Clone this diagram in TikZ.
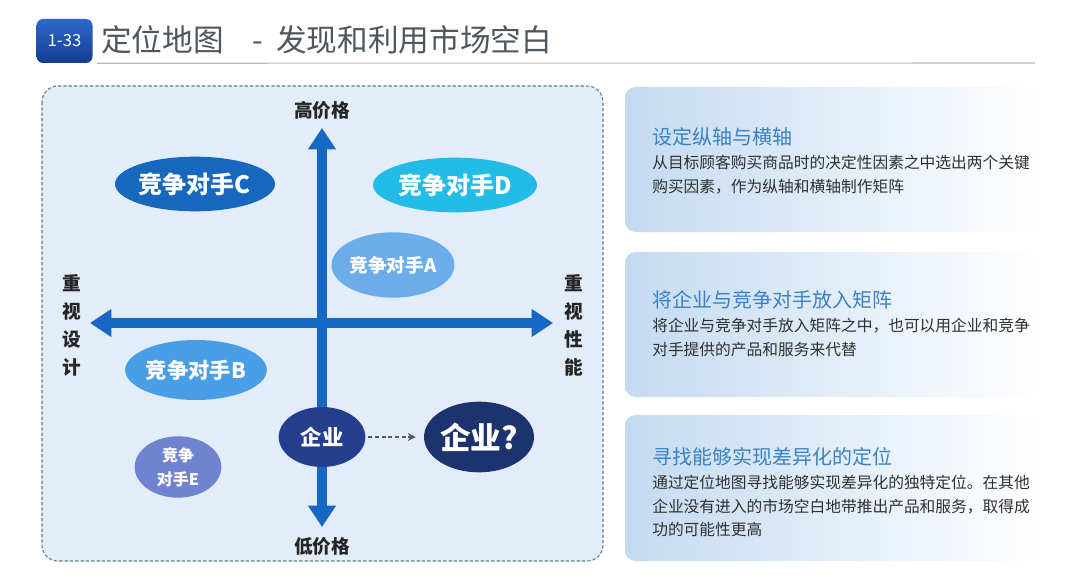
\documentclass[tikz,border=0pt]{standalone}
\usepackage{fontspec}
\setmainfont{Noto Sans CJK SC}
\usetikzlibrary{calc, arrows.meta, positioning, shapes.geometric}

\definecolor{axisblue}{HTML}{1668C4}
\definecolor{panelfill}{HTML}{E2EDF9}
\definecolor{paneledge}{HTML}{5E7F92}
\definecolor{rivalC}{HTML}{1767BF}
\definecolor{rivalD}{HTML}{23BCE6}
\definecolor{rivalA}{HTML}{6CACEB}
\definecolor{rivalB}{HTML}{4A9EE6}
\definecolor{rivalE}{HTML}{7083D0}
\definecolor{firmblue}{HTML}{253F8E}
\definecolor{goalblue}{HTML}{1D336E}
\definecolor{badgetop}{HTML}{2C68CC}
\definecolor{badgebot}{HTML}{163C92}
\definecolor{titlegray}{HTML}{4E565F}
\definecolor{cardblue}{HTML}{C4DAF1}
\definecolor{cardtitle}{HTML}{3A82C4}
\definecolor{bodygray}{HTML}{303030}

\tikzset{
  rival/.style={ellipse, inner sep=0pt, align=center, text=white},
  axis/.style={line width=7pt, axisblue, {Triangle[width=20pt,length=16pt]}-{Triangle[width=20pt,length=16pt]}},
  axislabel/.style={text=black!85, font=\bfseries\fontsize{14}{21}\selectfont, align=center, inner sep=0pt},
  card/.style={rounded corners=8pt, left color=cardblue, middle color=cardblue!22, right color=white},
  cardhead/.style={anchor=west, inner sep=0pt, text=cardtitle, font=\fontsize{15}{18}\selectfont},
  cardbody/.style={inner sep=0pt, align=left, text=bodygray, font=\fontsize{11.8}{17.5}\selectfont},
  badge/.style={rounded corners=5pt, top color=badgetop, bottom color=badgebot, text=white,
    minimum width=42pt, minimum height=33pt, inner sep=0pt, font=\fontsize{12.5}{14}\selectfont},
}

\begin{document}
\begin{tikzpicture}[x=0.75pt, y=-0.75pt]
    \fill[white] (0,0) rectangle (1080,581);
    \useasboundingbox (0,0) rectangle (1080,581);

    \node[badge] (num) at (64.5,41) {1-33};
    \node[anchor=west, inner sep=0pt, text=titlegray, font=\fontsize{23}{26}\selectfont] (head) at (101,40) {定位地图};
    \node[anchor=west, inner sep=0pt, text=titlegray, font=\fontsize{23}{26}\selectfont] (subhead) at (252,40) {-\hspace{10pt}发现和利用市场空白};
    \coordinate (ruleend) at (1035,63);
    \draw[gray!55, line width=0.8pt] ($(num.south east)+(4,0)$) -- (ruleend);

    \draw[paneledge, dash pattern=on 2.5pt off 1.5pt, line width=0.8pt, fill=panelfill, rounded corners=12pt] (42,86) rectangle (603,561);

    \coordinate (hi) at (322,128);
    \coordinate (lo) at (322,527);
    \coordinate (design) at (90,323);
    \coordinate (perf) at (553,323);
    \draw[axis] (lo) -- (hi);
    \draw[axis] (design) -- (perf);

    \node[axislabel] (hilabel) at (322,110) {高价格};
    \node[axislabel] (lolabel) at (322,546) {低价格};
    \node[axislabel] (designlabel) at (72,325) {重\\视\\设\\计};
    \node[axislabel] (perflabel) at (574,325) {重\\视\\性\\能};

    \node[rival, fill=rivalC, minimum width=120pt, minimum height=41pt, font=\bfseries\fontsize{18}{20}\selectfont] (rivc) at (195,184) {竞争对手C};
    \node[rival, fill=rivalD, minimum width=123pt, minimum height=41pt, font=\bfseries\fontsize{18}{20}\selectfont] (rivd) at (455,185) {竞争对手D};
    \node[rival, fill=rivalA, minimum width=90pt, minimum height=49pt, font=\bfseries\fontsize{14}{16}\selectfont] (riva) at (393,265) {竞争对手A};
    \node[rival, fill=rivalB, minimum width=91.5pt, minimum height=45pt, font=\bfseries\fontsize{16}{18}\selectfont] (rivb) at (196,370) {竞争对手B};
    \node[rival, fill=rivalE, minimum width=65pt, minimum height=46pt, font=\bfseries\fontsize{12}{18}\selectfont] (rive) at (178,467) {竞争\\对手E};
    \node[rival, fill=firmblue, minimum width=65pt, minimum height=45pt, font=\bfseries\fontsize{16}{18}\selectfont] (firm) at (322,437) {企业};
    \node[rival, fill=goalblue, minimum width=81pt, minimum height=53pt, font=\bfseries\fontsize{23}{25}\selectfont] (goal) at (479,437) {企业?};
    \draw[black!65, line width=1.1pt, dash pattern=on 3pt off 2pt, -{Stealth[length=6pt,width=6pt]}, shorten <=2pt, shorten >=6pt] (firm) -- (goal);

    \shade[card] (625,87) rectangle (1040,232);
    \node[cardhead] (sethead) at (652,137) {设定纵轴与横轴};
    \node[cardbody, below right=6.5pt and 0pt of sethead.south west] (setbody) {从目标顾客购买商品时的决定性因素之中选出两个关键\\购买因素，作为纵轴和横轴制作矩阵};

    \shade[card] (625,252) rectangle (1040,397);
    \node[cardhead] (puthead) at (652,300) {将企业与竞争对手放入矩阵};
    \node[cardbody, below right=6.5pt and 0pt of puthead.south west] (putbody) {将企业与竞争对手放入矩阵之中，也可以用企业和竞争\\对手提供的产品和服务来代替};

    \shade[card] (625,415) rectangle (1040,561);
    \node[cardhead] (findhead) at (652,457) {寻找能够实现差异化的定位};
    \node[cardbody, below right=6.5pt and 0pt of findhead.south west] (findbody) {通过定位地图寻找能够实现差异化的独特定位。在其他\\企业没有进入的市场空白地带推出产品和服务，取得成\\功的可能性更高};
\end{tikzpicture}
\end{document}
